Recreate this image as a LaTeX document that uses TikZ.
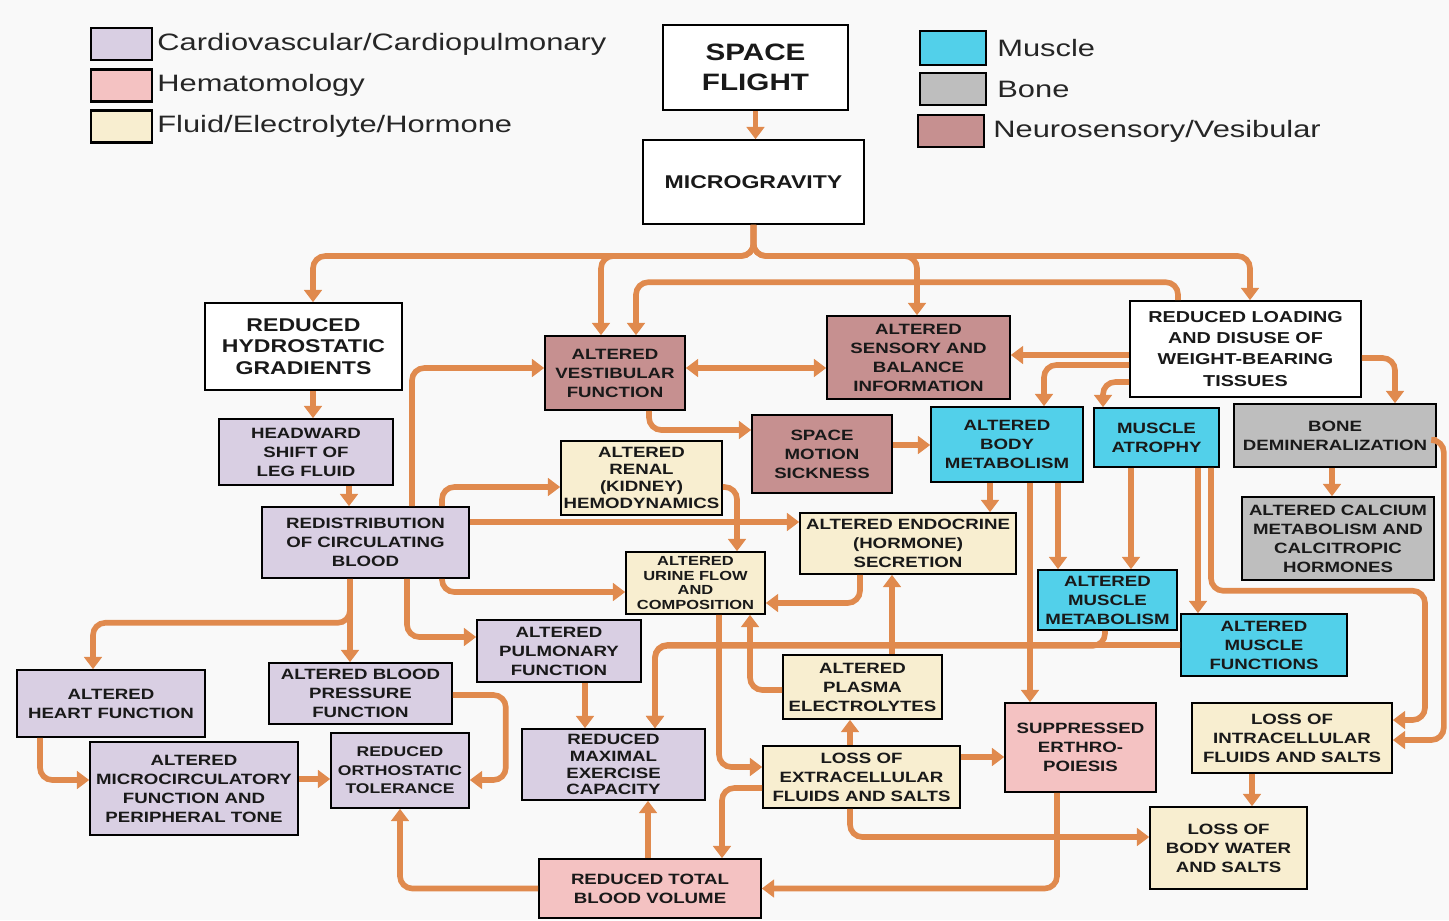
\documentclass[tikz,border=0pt]{standalone}
\usepackage{fontspec}
\setmainfont{Liberation Sans}
\newfontfamily\boxfont{Liberation Sans}[FakeStretch=1.25]
\newfontfamily\keyfont{Liberation Sans}[FakeStretch=1.3]
\usetikzlibrary{arrows.meta,positioning}

\definecolor{cardioc}{HTML}{D9CFE3}
\definecolor{hemac}{HTML}{F4C2C2}
\definecolor{fluidc}{HTML}{F8EED0}
\definecolor{musclec}{HTML}{52D0EA}
\definecolor{bonec}{HTML}{BEBEBE}
\definecolor{neuroc}{HTML}{C69090}
\definecolor{flowc}{HTML}{E08A4E}
\definecolor{pagec}{HTML}{F9F9F9}

\tikzset{
  >={Triangle[width=10pt,length=7pt]},
  stage/.style={draw=black, line width=0.9pt, align=center, inner sep=0pt, fill=white,
    text=black!90, font=\boxfont\bfseries\fontsize{8.5}{10.8}\selectfont},
  cardio/.style={fill=cardioc},
  hema/.style={fill=hemac},
  fluid/.style={fill=fluidc},
  muscle/.style={fill=musclec},
  bone/.style={fill=bonec},
  neuro/.style={fill=neuroc},
  bigtext/.style={font=\boxfont\bfseries\fontsize{10.5}{12.3}\selectfont},
  loadtext/.style={font=\boxfont\bfseries\fontsize{9}{12}\selectfont},
  snugtext/.style={font=\boxfont\bfseries\fontsize{8.5}{9.6}\selectfont},
  tighttext/.style={font=\boxfont\bfseries\fontsize{7.5}{8.2}\selectfont},
  flow/.style={draw=flowc, line width=3.2pt, rounded corners=7pt, ->},
  swatch/.style={draw=black, line width=1.2pt, inner sep=0pt, minimum height=0.64cm},
  keytext/.style={font=\keyfont\fontsize{13.5}{16}\selectfont, anchor=west, inner sep=0pt, text=black!85},
}

\newcommand{\Stage}[7][]{%
  \node[stage, #1, minimum width={(#5-#3)*0.02cm}, minimum height={(#6-#4)*0.02cm}]
    (#2) at ({(#3+#5)/2},{(#4+#6)/2}) {#7};}

\begin{document}
\begin{tikzpicture}[x=0.02cm, y=-0.02cm]
\fill[pagec] (0,0) rectangle (1449,920);
\useasboundingbox (0,0) rectangle (1449,920);

\node[swatch, fill=cardioc, minimum width=1.22cm] (keyCardio) at (121.5,44) {};
\node[swatch, fill=hemac, minimum width=1.22cm] (keyHema) at (121.5,85.5) {};
\node[swatch, fill=fluidc, minimum width=1.22cm] (keyFluid) at (121.5,126.5) {};
\node[keytext, right=0.08cm of keyCardio] {Cardiovascular/Cardiopulmonary};
\node[keytext, right=0.08cm of keyHema] {Hematomology};
\node[keytext, right=0.08cm of keyFluid] {Fluid/Electrolyte/Hormone};

\node[swatch, fill=musclec, minimum width=1.32cm, minimum height=0.68cm] (keyMuscle) at (953,48) {};
\node[swatch, fill=bonec, minimum width=1.32cm] (keyBone) at (953,89) {};
\node[swatch, fill=neuroc, minimum width=1.32cm] (keyNeuro) at (951,131) {};
\node[keytext, right=0.2cm of keyMuscle] {Muscle};
\node[keytext, right=0.2cm of keyBone] {Bone};
\node[keytext, right=0.16cm of keyNeuro] {Neurosensory/Vesibular};

\Stage[font=\boxfont\bfseries\fontsize{13.5}{17}\selectfont]{space}{663}{25}{848}{110}{SPACE\\FLIGHT}
\Stage[bigtext]{micro}{643}{140}{864}{224}{MICROGRAVITY}
\Stage[bigtext]{hydro}{205}{303}{402}{390}{REDUCED\\HYDROSTATIC\\GRADIENTS}
\Stage[cardio]{headward}{219}{419}{393}{485}{HEADWARD\\SHIFT OF\\LEG FLUID}
\Stage[cardio]{redist}{262}{507}{469}{578}{REDISTRIBUTION\\OF CIRCULATING\\BLOOD}
\Stage[neuro]{vest}{545}{336}{685}{410}{ALTERED\\VESTIBULAR\\FUNCTION}
\Stage[neuro]{sensory}{827}{316}{1010}{399}{ALTERED\\SENSORY AND\\BALANCE\\INFORMATION}
\Stage[loadtext]{loading}{1130}{301}{1361}{397}{REDUCED LOADING\\AND DISUSE OF\\WEIGHT-BEARING\\TISSUES}
\Stage[fluid, snugtext]{renal}{561}{441}{722}{515}{ALTERED\\RENAL\\(KIDNEY)\\HEMODYNAMICS}
\Stage[neuro]{motion}{752}{415}{892}{493}{SPACE\\MOTION\\SICKNESS}
\Stage[muscle]{bodymet}{931}{407}{1083}{482}{ALTERED\\BODY\\METABOLISM}
\Stage[muscle]{atrophy}{1094}{408}{1219}{467}{MUSCLE\\ATROPHY}
\Stage[bone]{demin}{1234}{404}{1436}{467}{BONE\\DEMINERALIZATION}
\Stage[bone]{calcium}{1242}{497}{1434}{580}{ALTERED CALCIUM\\METABOLISM AND\\CALCITROPIC\\HORMONES}
\Stage[fluid]{endo}{800}{513}{1016}{574}{ALTERED ENDOCRINE\\(HORMONE)\\SECRETION}
\Stage[fluid, tighttext]{urine}{626}{552}{765}{614}{ALTERED\\URINE FLOW\\AND\\COMPOSITION}
\Stage[muscle]{mmetab}{1038}{570}{1177}{630}{ALTERED\\MUSCLE\\METABOLISM}
\Stage[muscle]{mfunc}{1181}{614}{1347}{676}{ALTERED\\MUSCLE\\FUNCTIONS}
\Stage[cardio]{pulm}{477}{620}{641}{682}{ALTERED\\PULMONARY\\FUNCTION}
\Stage[cardio]{heart}{17}{670}{205}{737}{ALTERED\\HEART FUNCTION}
\Stage[cardio]{bp}{269}{663}{452}{724}{ALTERED BLOOD\\PRESSURE\\FUNCTION}
\Stage[fluid]{plasma}{783}{655}{942}{719}{ALTERED\\PLASMA\\ELECTROLYTES}
\Stage[cardio]{microc}{90}{742}{298}{835}{ALTERED\\MICROCIRCULATORY\\FUNCTION AND\\PERIPHERAL TONE}
\Stage[cardio, font=\boxfont\bfseries\fontsize{8}{10.5}\selectfont]{ortho}{331}{733}{469}{808}{REDUCED\\ORTHOSTATIC\\TOLERANCE}
\Stage[cardio, snugtext]{exer}{522}{729}{705}{800}{REDUCED\\MAXIMAL\\EXERCISE\\CAPACITY}
\Stage[fluid]{extra}{763}{746}{960}{808}{LOSS OF\\EXTRACELLULAR\\FLUIDS AND SALTS}
\Stage[hema]{supp}{1005}{703}{1156}{792}{SUPPRESSED\\ERTHRO-\\POIESIS}
\Stage[fluid]{intra}{1192}{703}{1392}{773}{LOSS OF\\INTRACELLULAR\\FLUIDS AND SALTS}
\Stage[hema]{bv}{539}{859}{761}{918}{REDUCED TOTAL\\BLOOD VOLUME}
\Stage[fluid]{water}{1150}{807}{1307}{889}{LOSS OF\\BODY WATER\\AND SALTS}

\coordinate (mgbus) at (micro.south |- 0,256);

\draw[flow] (space.south) -- (space.south |- micro.north);
\draw[flow] (micro.south) -- (mgbus) -| (hydro.north -| 313,0);
\draw[flow] (micro.south) -- (mgbus) -| (vest.north -| 601,0);
\draw[flow] (micro.south) -- (mgbus) -| (sensory.north -| 917,0);
\draw[flow] (micro.south) -- (mgbus) -| (loading.north -| 1250,0);
\draw[flow] (loading.north -| 1178,0) -- ++(0,-18) -| (vest.north -| 636,0);

\draw[flow] (hydro.south -| 313,0) -- (headward.north -| 313,0);
\draw[flow] (headward.south -| 349,0) -- (redist.north -| 349,0);
\draw[flow] (redist.north -| 412,0) |- (vest.west |- 0,368);
\draw[flow] (redist.north -| 442,0) |- (renal.west |- 0,487);
\draw[flow] (redist.east |- 0,522) -- (endo.west |- 0,522);
\draw[flow] (redist.south -| 442,0) |- (urine.west |- 0,592);
\draw[flow] (redist.south -| 407,0) |- (pulm.west |- 0,637);
\draw[flow] (redist.south -| 350,0) -- ++(0,44) -| (heart.north -| 93,0);
\draw[flow] (redist.south -| 350,0) -- (bp.north -| 350,0);

\draw[flow] (heart.south -| 40,0) |- (microc.west |- 0,780);
\draw[flow] (microc.east |- 0,779) -- (ortho.west |- 0,779);
\draw[flow] (bp.east |- 0,695) -- ++(53,0) |- (ortho.east |- 0,780);
\draw[flow] (bv.west) -| (ortho.south);
\draw[flow] (pulm.south -| 585,0) -- (exer.north -| 585,0);
\draw[flow] (mfunc.west) -| (exer.north -| 655,0);
\draw[flow] (mmetab.south -| 1105,0) -- ++(0,15) -| (exer.north -| 655,0);
\draw[flow] (bv.north -| 648,0) -- (exer.south -| 648,0);

\draw[flow] (extra.west |- 0,788) -| (bv.north -| 722,0);
\draw[flow] (supp.south -| 1057,0) |- (bv.east);
\draw[flow] (urine.south -| 719,0) |- (extra.west |- 0,767);
\draw[flow] (extra.north -| 850,0) -- (plasma.south -| 850,0);
\draw[flow] (extra.south -| 850,0) |- (water.west |- 0,837);
\draw[flow] (extra.east |- 0,757) -- (supp.west |- 0,757);
\draw[flow] (plasma.west |- 0,690) -| (urine.south -| 750,0);
\draw[flow] (plasma.north -| 892,0) -- (endo.south -| 892,0);
\draw[flow] (endo.south -| 860,0) |- (urine.east |- 0,603);
\draw[flow] (renal.east |- 0,487) -| (urine.north -| 737,0);

\draw[flow] (vest.south -| 649,0) |- (motion.west |- 0,430);
\draw[flow, <->] (vest.east |- 0,368) -- (sensory.west |- 0,368);
\draw[flow] (motion.east |- 0,445) -- (bodymet.west |- 0,445);
\draw[flow] (loading.west |- 0,355) -- (sensory.east |- 0,355);
\draw[flow] (loading.west |- 0,365) -| (bodymet.north -| 1044,0);
\draw[flow] (loading.west |- 0,382) -| (atrophy.north -| 1103,0);
\draw[flow] (loading.east |- 0,358) -| (demin.north -| 1395,0);
\draw[flow] (demin.south -| 1332,0) -- (calcium.north -| 1332,0);

\draw[flow] (bodymet.south -| 990,0) -- (endo.north -| 990,0);
\draw[flow] (bodymet.south -| 1058,0) -- (mmetab.north -| 1058,0);
\draw[flow] (bodymet.south -| 1030,0) -- (supp.north -| 1030,0);
\draw[flow] (atrophy.south -| 1131,0) -- (mmetab.north -| 1131,0);
\draw[flow] (atrophy.south -| 1198,0) -- (mfunc.north -| 1198,0);
\draw[flow] (atrophy.south -| 1211,0) -- ++(0,123) -- ++(214,0) |- (intra.east |- 0,720);
\draw[flow] (demin.east |- 0,440) -- ++(7,0) |- (intra.east |- 0,740);
\draw[flow] (intra.south -| 1252,0) -- (water.north -| 1252,0);
\end{tikzpicture}
\end{document}
